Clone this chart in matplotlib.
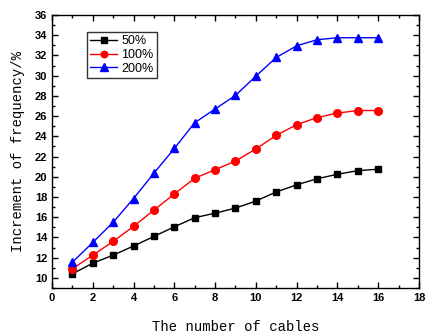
import matplotlib.pyplot as plt
from matplotlib.ticker import MultipleLocator

# Number of cables and frequency increments (%)
cables = [1, 2, 3, 4, 5, 6, 7, 8, 9, 10, 11, 12, 13, 14, 15, 16]
inc_50 = [10.4, 11.45, 12.25, 13.15, 14.1, 15.05, 15.95, 16.4, 16.9, 17.6,
          18.5, 19.2, 19.8, 20.25, 20.6, 20.75]
inc_100 = [10.9, 12.25, 13.6, 15.1, 16.7, 18.3, 19.85, 20.7, 21.55, 22.75,
           24.1, 25.15, 25.85, 26.3, 26.55, 26.55]
inc_200 = [11.55, 13.5, 15.5, 17.85, 20.35, 22.8, 25.35, 26.7, 28.05, 29.95,
           31.8, 32.95, 33.55, 33.75, 33.75, 33.75]

fig = plt.figure(figsize=(4.34, 3.36), dpi=100)
ax = fig.add_axes([0.1198, 0.1429, 0.8456, 0.8125])

ax.plot(cables, inc_50, color='black', marker='s', markersize=5, linewidth=1, label='50%')
ax.plot(cables, inc_100, color='red', marker='o', markersize=5.5, linewidth=1, label='100%')
ax.plot(cables, inc_200, color='blue', marker='^', markersize=6, linewidth=1, label='200%')

ax.set_xlim(0, 18)
ax.set_ylim(9, 36)
ax.xaxis.set_major_locator(MultipleLocator(2))
ax.xaxis.set_minor_locator(MultipleLocator(1))
ax.yaxis.set_major_locator(MultipleLocator(2))
ax.yaxis.set_minor_locator(MultipleLocator(1))
ax.set_yticks(range(10, 37, 2))

ax.tick_params(which='both', direction='in', top=True, right=True, width=1)
ax.tick_params(which='major', length=4)
ax.tick_params(which='minor', length=2)
for lab in ax.get_xticklabels() + ax.get_yticklabels():
    lab.set_fontfamily('Liberation Sans')
    lab.set_fontweight('bold')
    lab.set_fontsize(8)
for sp in ax.spines.values():
    sp.set_linewidth(1)

ax.set_xlabel('The number of cables', fontfamily='Liberation Mono', fontsize=10, labelpad=12)
ax.set_ylabel('Increment of frequency/%', fontfamily='Liberation Mono', fontsize=10, labelpad=7)

leg = ax.legend(loc='upper left', bbox_to_anchor=(0.095, 0.938), frameon=True, fancybox=False,
                edgecolor='black', prop={'family': 'Liberation Sans', 'size': 9},
                handlelength=2.2, handletextpad=0.3, borderpad=0.25, labelspacing=0.15,
                borderaxespad=0, markerscale=0.85)
leg.get_frame().set_linewidth(1)

plt.savefig('out.png', dpi=100)
plt.close()
